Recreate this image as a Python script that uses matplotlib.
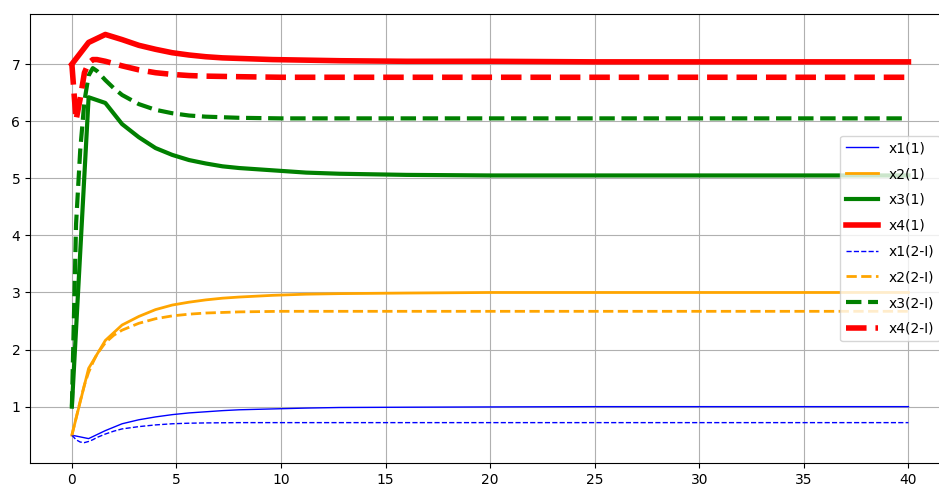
import matplotlib
matplotlib.use("Agg")
from matplotlib import pyplot as plt

# time grids: model (1) was stored every 0.8, model (2-I) more densely at the start
t_1 = [0, 0.8, 1.6, 2.4, 3.2, 4.0, 4.8, 5.6, 6.4, 7.2, 8.0, 9.6, 11.2, 12.8,
       16, 20, 25, 30, 35, 40]
t_2 = [0, 0.2, 0.4, 0.6, 0.8, 1.0, 1.2, 1.6, 2.0, 2.4, 3.2, 4.0, 4.8, 5.6,
       6.4, 8.0, 10, 12, 15, 20, 25, 30, 35, 40]

x1_1 = [0.5, 0.44, 0.58, 0.70, 0.77, 0.82, 0.86, 0.89, 0.91, 0.93, 0.945,
        0.96, 0.975, 0.985, 0.99, 0.995, 1.0, 1.0, 1.0, 1.0]
x2_1 = [0.5, 1.67, 2.16, 2.43, 2.58, 2.70, 2.78, 2.83, 2.87, 2.90, 2.92,
        2.95, 2.97, 2.98, 2.99, 3.0, 3.0, 3.0, 3.0, 3.0]
x3_1 = [1.0, 6.42, 6.32, 5.95, 5.72, 5.53, 5.41, 5.32, 5.26, 5.21, 5.18,
        5.14, 5.10, 5.08, 5.06, 5.05, 5.05, 5.05, 5.05, 5.05]
x4_1 = [7.0, 7.38, 7.52, 7.43, 7.33, 7.26, 7.20, 7.16, 7.13, 7.11, 7.10,
        7.08, 7.07, 7.06, 7.05, 7.05, 7.04, 7.04, 7.04, 7.04]

x1_2 = [0.5, 0.42, 0.38, 0.37, 0.39, 0.42, 0.46, 0.52, 0.57, 0.61, 0.65,
        0.68, 0.70, 0.71, 0.715, 0.72, 0.72, 0.72, 0.72, 0.72, 0.72, 0.72,
        0.72, 0.72]
x2_2 = [0.5, 0.8, 1.1, 1.38, 1.6, 1.77, 1.92, 2.12, 2.25, 2.34, 2.46, 2.54,
        2.59, 2.62, 2.64, 2.66, 2.67, 2.67, 2.67, 2.67, 2.67, 2.67, 2.67, 2.67]
x3_2 = [1.0, 4.2, 5.5, 6.35, 6.8, 6.93, 6.88, 6.72, 6.58, 6.46, 6.30, 6.20,
        6.14, 6.10, 6.08, 6.06, 6.05, 6.05, 6.05, 6.05, 6.05, 6.05, 6.05, 6.05]
x4_2 = [7.0, 6.02, 6.4, 6.85, 7.02, 7.08, 7.08, 7.05, 7.01, 6.97, 6.90, 6.85,
        6.82, 6.80, 6.79, 6.78, 6.77, 6.77, 6.77, 6.77, 6.77, 6.77, 6.77, 6.77]

colors = ['blue', 'orange', 'green', 'red']
names = ['x1', 'x2', 'x3', 'x4']

fig = plt.figure(figsize=(9.39, 4.88), dpi=100)
ax = fig.add_axes([0.032, 0.0512, 0.98, 0.92])

for i, y in enumerate([x1_1, x2_1, x3_1, x4_1]):
    ax.plot(t_1, y, color=colors[i], lw=i + 1, label=names[i] + '(1)')
for i, y in enumerate([x1_2, x2_2, x3_2, x4_2]):
    ax.plot(t_2, y, '--', color=colors[i], lw=i + 1, label=names[i] + '(2-I)')

ax.grid(True)
ax.legend(loc='center left', bbox_to_anchor=(0.8804, 0.5), borderaxespad=0,
          labelspacing=0.85, handlelength=2.3)

fig.savefig('out.png', dpi=100)
